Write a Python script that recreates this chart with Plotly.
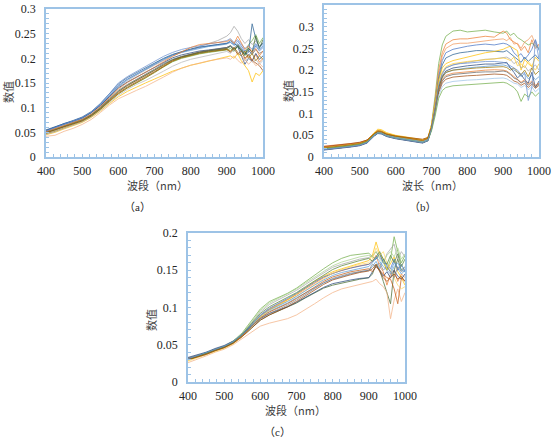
import plotly.graph_objects as go

W, H = 554, 446

# ---------------- data ----------------
wl_a = [400,425,450,475,500,525,550,575,600,625,650,675,700,725,750,775,800,825,850,875,900,910,920,930,940,950,960,970,980,990,1000]
wl_b = [400,425,450,475,500,520,540,550,560,575,600,625,650,675,690,700,710,720,730,740,760,780,800,825,850,875,900,910,920,930,940,950,960,970,980,990,1000]
wl_c = wl_a

series_a = [
    [0.053,0.060,0.068,0.073,0.080,0.090,0.106,0.125,0.145,0.158,0.168,0.178,0.188,0.198,0.207,0.213,0.218,0.222,0.225,0.228,0.230,0.232,0.228,0.235,0.225,0.215,0.220,0.212,0.225,0.215,0.222],
    [0.050,0.055,0.062,0.068,0.074,0.084,0.098,0.115,0.132,0.145,0.155,0.165,0.176,0.186,0.196,0.203,0.208,0.213,0.216,0.218,0.220,0.215,0.222,0.210,0.205,0.198,0.205,0.195,0.208,0.192,0.200],
    [0.048,0.054,0.062,0.068,0.075,0.086,0.102,0.122,0.142,0.155,0.166,0.176,0.186,0.196,0.205,0.212,0.218,0.224,0.230,0.236,0.245,0.252,0.265,0.255,0.240,0.230,0.238,0.228,0.235,0.225,0.230],
    [0.045,0.050,0.057,0.063,0.070,0.080,0.093,0.108,0.122,0.133,0.142,0.150,0.158,0.166,0.174,0.180,0.186,0.190,0.194,0.198,0.202,0.205,0.200,0.210,0.195,0.185,0.175,0.152,0.170,0.165,0.175],
    [0.052,0.059,0.066,0.071,0.078,0.089,0.105,0.124,0.143,0.157,0.167,0.178,0.189,0.199,0.206,0.212,0.216,0.220,0.224,0.226,0.229,0.233,0.226,0.230,0.220,0.212,0.205,0.215,0.228,0.218,0.225],
    [0.050,0.055,0.062,0.067,0.073,0.083,0.097,0.113,0.128,0.140,0.150,0.160,0.172,0.183,0.193,0.200,0.205,0.209,0.212,0.214,0.217,0.220,0.214,0.224,0.218,0.205,0.228,0.236,0.248,0.230,0.242],
    [0.054,0.060,0.066,0.072,0.079,0.090,0.104,0.122,0.140,0.152,0.162,0.172,0.182,0.192,0.201,0.207,0.211,0.215,0.217,0.219,0.222,0.225,0.218,0.224,0.205,0.188,0.200,0.195,0.210,0.198,0.205],
    [0.049,0.055,0.061,0.066,0.073,0.083,0.097,0.114,0.130,0.142,0.152,0.162,0.173,0.184,0.195,0.202,0.207,0.211,0.214,0.216,0.218,0.212,0.220,0.208,0.215,0.200,0.208,0.196,0.190,0.185,0.175],
    [0.051,0.057,0.064,0.069,0.076,0.086,0.100,0.118,0.135,0.147,0.157,0.167,0.178,0.189,0.198,0.204,0.209,0.213,0.216,0.219,0.222,0.226,0.220,0.228,0.218,0.210,0.216,0.208,0.218,0.210,0.214],
    [0.047,0.052,0.059,0.065,0.072,0.082,0.096,0.112,0.128,0.140,0.150,0.160,0.171,0.183,0.194,0.201,0.206,0.210,0.213,0.215,0.218,0.214,0.222,0.212,0.205,0.215,0.200,0.210,0.195,0.205,0.198],
    [0.055,0.061,0.068,0.074,0.081,0.092,0.108,0.128,0.148,0.161,0.171,0.181,0.191,0.200,0.208,0.214,0.219,0.223,0.226,0.228,0.230,0.236,0.230,0.225,0.215,0.208,0.212,0.270,0.240,0.222,0.232],
    [0.050,0.056,0.063,0.068,0.075,0.085,0.099,0.116,0.133,0.145,0.155,0.165,0.176,0.187,0.197,0.203,0.208,0.212,0.215,0.218,0.220,0.224,0.216,0.226,0.215,0.208,0.220,0.212,0.245,0.220,0.238],
    [0.053,0.060,0.067,0.073,0.080,0.091,0.108,0.128,0.150,0.163,0.173,0.184,0.194,0.204,0.212,0.218,0.222,0.226,0.229,0.232,0.236,0.240,0.232,0.238,0.228,0.220,0.226,0.218,0.230,0.222,0.228],
    [0.042,0.044,0.052,0.058,0.066,0.076,0.090,0.105,0.118,0.127,0.135,0.143,0.152,0.162,0.172,0.180,0.186,0.191,0.195,0.198,0.201,0.198,0.205,0.196,0.190,0.198,0.188,0.195,0.185,0.190,0.182],
    [0.046,0.051,0.058,0.064,0.071,0.081,0.094,0.110,0.125,0.137,0.147,0.155,0.164,0.174,0.184,0.192,0.198,0.202,0.206,0.210,0.214,0.210,0.218,0.212,0.205,0.195,0.200,0.192,0.198,0.188,0.196],
    [0.051,0.057,0.064,0.069,0.076,0.087,0.102,0.120,0.138,0.151,0.161,0.171,0.182,0.193,0.204,0.213,0.222,0.228,0.230,0.232,0.234,0.238,0.230,0.245,0.232,0.218,0.225,0.212,0.220,0.205,0.215],
]

series_b = [
    [0.018,0.020,0.023,0.025,0.028,0.034,0.052,0.058,0.057,0.051,0.046,0.043,0.040,0.036,0.042,0.075,0.140,0.215,0.258,0.278,0.290,0.292,0.288,0.290,0.292,0.288,0.285,0.290,0.280,0.285,0.275,0.270,0.265,0.258,0.262,0.255,0.250],
    [0.025,0.027,0.029,0.031,0.033,0.039,0.055,0.061,0.060,0.054,0.049,0.046,0.043,0.039,0.044,0.072,0.130,0.200,0.240,0.260,0.270,0.272,0.272,0.275,0.278,0.276,0.290,0.285,0.270,0.265,0.260,0.245,0.255,0.240,0.270,0.250,0.260],
    [0.020,0.022,0.025,0.027,0.030,0.036,0.053,0.059,0.058,0.052,0.047,0.044,0.041,0.037,0.042,0.070,0.125,0.192,0.232,0.250,0.260,0.262,0.262,0.265,0.268,0.270,0.272,0.268,0.275,0.260,0.262,0.250,0.265,0.270,0.280,0.260,0.255],
    [0.018,0.020,0.023,0.025,0.028,0.034,0.050,0.056,0.055,0.049,0.044,0.041,0.038,0.034,0.039,0.068,0.120,0.185,0.222,0.240,0.248,0.252,0.255,0.258,0.260,0.258,0.262,0.260,0.255,0.240,0.232,0.238,0.225,0.235,0.248,0.270,0.245],
    [0.017,0.019,0.022,0.024,0.027,0.033,0.049,0.055,0.054,0.048,0.043,0.040,0.037,0.033,0.038,0.066,0.115,0.178,0.212,0.228,0.236,0.240,0.242,0.245,0.245,0.243,0.242,0.245,0.238,0.230,0.225,0.218,0.230,0.220,0.228,0.235,0.225],
    [0.021,0.023,0.026,0.028,0.031,0.037,0.056,0.064,0.063,0.056,0.050,0.047,0.044,0.040,0.045,0.074,0.122,0.178,0.205,0.215,0.222,0.226,0.230,0.235,0.240,0.243,0.248,0.252,0.255,0.250,0.245,0.200,0.225,0.215,0.208,0.230,0.220],
    [0.020,0.022,0.025,0.027,0.030,0.036,0.052,0.058,0.057,0.051,0.046,0.043,0.040,0.036,0.041,0.068,0.112,0.165,0.192,0.205,0.212,0.216,0.218,0.222,0.225,0.226,0.228,0.230,0.225,0.215,0.220,0.205,0.210,0.198,0.205,0.212,0.200],
    [0.022,0.024,0.027,0.029,0.032,0.038,0.056,0.062,0.061,0.055,0.049,0.046,0.043,0.039,0.044,0.072,0.118,0.170,0.196,0.208,0.215,0.218,0.220,0.222,0.224,0.226,0.228,0.226,0.222,0.230,0.210,0.215,0.205,0.220,0.210,0.200,0.215],
    [0.019,0.021,0.024,0.026,0.029,0.035,0.051,0.057,0.056,0.050,0.045,0.042,0.039,0.035,0.040,0.066,0.108,0.158,0.182,0.194,0.200,0.203,0.205,0.207,0.209,0.210,0.212,0.210,0.205,0.198,0.195,0.185,0.192,0.180,0.188,0.178,0.185],
    [0.016,0.018,0.021,0.023,0.026,0.032,0.048,0.054,0.053,0.047,0.042,0.039,0.036,0.032,0.037,0.064,0.108,0.160,0.186,0.198,0.205,0.208,0.210,0.212,0.214,0.214,0.216,0.218,0.205,0.195,0.182,0.190,0.178,0.170,0.195,0.160,0.175],
    [0.023,0.025,0.028,0.030,0.033,0.039,0.054,0.060,0.059,0.053,0.048,0.045,0.042,0.038,0.043,0.068,0.108,0.155,0.178,0.188,0.193,0.195,0.196,0.198,0.200,0.201,0.200,0.198,0.192,0.185,0.180,0.172,0.178,0.168,0.175,0.165,0.170],
    [0.024,0.026,0.029,0.031,0.034,0.039,0.053,0.058,0.057,0.052,0.048,0.046,0.044,0.041,0.045,0.068,0.104,0.148,0.170,0.179,0.184,0.186,0.187,0.188,0.190,0.191,0.190,0.188,0.182,0.175,0.172,0.165,0.170,0.160,0.168,0.158,0.165],
    [0.017,0.019,0.022,0.024,0.027,0.033,0.049,0.055,0.054,0.048,0.043,0.040,0.037,0.033,0.038,0.064,0.104,0.152,0.175,0.185,0.190,0.192,0.193,0.195,0.196,0.196,0.198,0.196,0.190,0.182,0.178,0.170,0.175,0.165,0.172,0.162,0.168],
    [0.018,0.020,0.023,0.025,0.028,0.034,0.050,0.056,0.055,0.049,0.044,0.041,0.038,0.034,0.039,0.062,0.098,0.142,0.162,0.170,0.174,0.176,0.177,0.178,0.180,0.181,0.182,0.180,0.175,0.170,0.168,0.160,0.165,0.155,0.162,0.150,0.158],
    [0.019,0.021,0.024,0.026,0.029,0.035,0.050,0.056,0.055,0.049,0.044,0.041,0.038,0.034,0.038,0.060,0.094,0.135,0.153,0.160,0.164,0.165,0.166,0.168,0.170,0.170,0.172,0.170,0.165,0.160,0.150,0.128,0.145,0.138,0.150,0.140,0.148],
    [0.021,0.023,0.026,0.028,0.031,0.037,0.054,0.060,0.059,0.053,0.048,0.045,0.042,0.038,0.043,0.068,0.110,0.160,0.184,0.195,0.200,0.202,0.203,0.205,0.206,0.207,0.208,0.206,0.200,0.205,0.195,0.190,0.200,0.185,0.205,0.190,0.198],
    [0.017,0.019,0.022,0.024,0.027,0.033,0.049,0.055,0.054,0.048,0.043,0.040,0.037,0.033,0.038,0.066,0.112,0.165,0.192,0.205,0.212,0.215,0.216,0.218,0.220,0.220,0.218,0.215,0.210,0.205,0.200,0.190,0.195,0.130,0.160,0.270,0.225],
]

series_c = [
    [0.031,0.035,0.039,0.044,0.048,0.055,0.066,0.082,0.098,0.108,0.113,0.119,0.126,0.135,0.144,0.152,0.160,0.166,0.170,0.172,0.173,0.168,0.165,0.172,0.160,0.150,0.165,0.195,0.175,0.160,0.170],
    [0.030,0.034,0.038,0.043,0.047,0.053,0.063,0.076,0.089,0.098,0.104,0.110,0.117,0.125,0.133,0.140,0.146,0.150,0.153,0.156,0.158,0.162,0.170,0.155,0.148,0.130,0.145,0.150,0.135,0.145,0.140],
    [0.032,0.035,0.039,0.044,0.048,0.054,0.065,0.079,0.094,0.104,0.110,0.116,0.123,0.131,0.139,0.147,0.154,0.158,0.162,0.165,0.167,0.170,0.175,0.168,0.160,0.172,0.178,0.185,0.165,0.175,0.168],
    [0.029,0.033,0.037,0.042,0.046,0.052,0.062,0.075,0.088,0.097,0.103,0.110,0.118,0.127,0.135,0.142,0.148,0.152,0.156,0.160,0.163,0.170,0.188,0.172,0.165,0.150,0.160,0.168,0.148,0.140,0.130],
    [0.031,0.034,0.038,0.043,0.047,0.053,0.063,0.075,0.087,0.095,0.100,0.106,0.113,0.120,0.127,0.133,0.138,0.142,0.145,0.148,0.150,0.155,0.162,0.152,0.165,0.155,0.148,0.160,0.152,0.145,0.150],
    [0.030,0.033,0.037,0.042,0.046,0.052,0.061,0.072,0.083,0.090,0.095,0.100,0.106,0.113,0.120,0.126,0.130,0.133,0.136,0.138,0.140,0.145,0.158,0.150,0.135,0.120,0.105,0.150,0.165,0.150,0.155],
    [0.026,0.030,0.035,0.040,0.044,0.050,0.058,0.067,0.075,0.079,0.082,0.085,0.090,0.097,0.105,0.113,0.120,0.125,0.128,0.130,0.133,0.135,0.138,0.132,0.128,0.120,0.085,0.110,0.125,0.108,0.120],
    [0.032,0.035,0.039,0.044,0.048,0.054,0.064,0.077,0.090,0.099,0.105,0.112,0.119,0.127,0.134,0.141,0.146,0.150,0.153,0.156,0.158,0.162,0.165,0.172,0.160,0.158,0.152,0.165,0.150,0.158,0.148],
    [0.033,0.036,0.040,0.045,0.049,0.055,0.064,0.075,0.085,0.092,0.096,0.101,0.107,0.114,0.121,0.127,0.132,0.135,0.137,0.139,0.140,0.148,0.155,0.150,0.142,0.148,0.140,0.150,0.142,0.138,0.145],
    [0.030,0.034,0.038,0.043,0.047,0.054,0.065,0.080,0.096,0.106,0.112,0.118,0.125,0.133,0.141,0.149,0.156,0.161,0.165,0.168,0.170,0.168,0.175,0.165,0.160,0.170,0.175,0.168,0.180,0.165,0.172],
    [0.028,0.032,0.036,0.041,0.045,0.051,0.061,0.074,0.087,0.096,0.102,0.108,0.115,0.123,0.131,0.139,0.146,0.151,0.155,0.158,0.160,0.165,0.180,0.170,0.175,0.160,0.150,0.140,0.130,0.125,0.128],
    [0.031,0.034,0.038,0.043,0.047,0.053,0.062,0.074,0.086,0.094,0.099,0.105,0.112,0.120,0.128,0.135,0.141,0.145,0.148,0.150,0.152,0.148,0.155,0.150,0.145,0.140,0.138,0.125,0.105,0.140,0.135],
    [0.032,0.035,0.039,0.044,0.048,0.054,0.063,0.074,0.085,0.092,0.097,0.103,0.110,0.118,0.126,0.133,0.139,0.143,0.146,0.148,0.150,0.158,0.155,0.160,0.150,0.155,0.148,0.140,0.155,0.148,0.152],
    [0.030,0.034,0.038,0.043,0.047,0.053,0.064,0.078,0.092,0.101,0.107,0.113,0.120,0.128,0.136,0.144,0.151,0.156,0.160,0.163,0.166,0.162,0.168,0.175,0.165,0.158,0.170,0.160,0.172,0.155,0.165],
    [0.031,0.035,0.039,0.044,0.048,0.054,0.064,0.076,0.089,0.097,0.102,0.108,0.115,0.123,0.130,0.137,0.143,0.147,0.150,0.153,0.155,0.160,0.168,0.162,0.155,0.150,0.145,0.155,0.160,0.150,0.148],
    [0.030,0.033,0.037,0.042,0.046,0.052,0.061,0.072,0.083,0.090,0.095,0.101,0.108,0.116,0.124,0.131,0.137,0.141,0.144,0.147,0.149,0.152,0.158,0.148,0.140,0.135,0.140,0.145,0.138,0.142,0.135],
]

colors_a = ["#4472C4","#ED7D31","#A5A5A5","#FFC000","#5B9BD5","#70AD47","#264478","#9E480E",
            "#636363","#997300","#255E91","#43682B","#698ED0","#F4B183","#B7B7B7","#ED7D31"]
colors_b = ["#70AD47","#ED7D31","#F1975A","#4472C4","#255E91","#FFC000","#A5A5A5","#FFCD33",
            "#5B9BD5","#264478","#ED7D31","#9E480E","#636363","#9DC3E6","#70AD47","#997300","#698ED0"]
colors_c = ["#70AD47","#ED7D31","#A5A5A5","#FFC000","#5B9BD5","#43682B","#F4B183","#4472C4",
            "#264478","#A9D18E","#FFD966","#C55A11","#7F7F7F","#548235","#5B9BD5","#9E480E"]

titles_x = ["波段（nm）", "波长（nm）", "波段（nm）"]
title_y = "数值"
captions = ["（a）", "（b）", "（c）"]
y_ranges = [[0, 0.3], [0, 0.35], [0, 0.2]]

# ---------------- layout helpers (pixel boxes) ----------------
def px_x(p): return p / W
def px_y(p): return 1 - p / H

boxes = [  # left, right, top, bottom in pixels
    (46, 263, 9, 157),
    (324, 539, 5, 157),
    (188, 405, 233, 382),
]

fig = go.Figure()
all_data = [(wl_a, series_a, colors_a), (wl_b, series_b, colors_b), (wl_c, series_c, colors_c)]
for i, (wl, ser, cols) in enumerate(all_data):
    xa = "x" if i == 0 else f"x{i+1}"
    ya = "y" if i == 0 else f"y{i+1}"
    for j, s in enumerate(ser):
        fig.add_trace(go.Scatter(x=wl, y=s, mode="lines", xaxis=xa, yaxis=ya,
                                 line=dict(color=cols[j % len(cols)], width=0.9),
                                 opacity=0.8, showlegend=False, hoverinfo="skip"))

border = "#9DC3E6"
tickfont = dict(family="Liberation Serif, Times New Roman, serif", size=12, color="#262626")
layout = dict(width=W, height=H, margin=dict(l=0, r=0, t=0, b=0, autoexpand=False),
              paper_bgcolor="white", plot_bgcolor="white", showlegend=False)

annotations = []
for i, (l, r, t, b) in enumerate(boxes):
    sfx = "" if i == 0 else str(i + 1)
    layout[f"xaxis{sfx}"] = dict(
        domain=[px_x(l), px_x(r)], range=[400, 1000], anchor=f"y{sfx}", automargin=False,
        tickmode="linear", tick0=400, dtick=100, ticks="inside", ticklen=3,
        tickcolor=border, showline=True, linecolor=border, linewidth=1.5, mirror=True,
        showgrid=False, zeroline=False, tickfont=tickfont, ticklabelstandoff=2,
        minor=dict(dtick=20, ticks="inside", ticklen=3, tickcolor=border, showgrid=False))
    yr = y_ranges[i]
    layout[f"yaxis{sfx}"] = dict(
        domain=[px_y(b), px_y(t)], range=yr, anchor=f"x{sfx}", automargin=False,
        tickmode="linear", tick0=0, dtick=0.05, ticks="inside", ticklen=3,
        tickcolor=border, showline=True, linecolor=border, linewidth=1.5, mirror=True,
        showgrid=False, zeroline=False, tickfont=tickfont, ticklabelstandoff=6,
        minor=dict(dtick=0.01, ticks="inside", ticklen=3, tickcolor=border, showgrid=False))

cjk = "Noto Sans CJK SC"
label_pos = [
    dict(xt=(157, 185), yt=(8, 92), cap=(137, 207)),
    dict(xt=(432, 185), yt=(288, 91), cap=(423, 207)),
    dict(xt=(295, 410), yt=(151, 320), cap=(277, 432)),
]
for i, p in enumerate(label_pos):
    annotations.append(dict(x=px_x(p["xt"][0]), y=px_y(p["xt"][1]), xref="paper", yref="paper",
                            xanchor="center", yanchor="middle",
                            text=titles_x[i], showarrow=False,
                            font=dict(family=cjk, size=11, color="#404040")))
    annotations.append(dict(x=px_x(p["yt"][0]), y=px_y(p["yt"][1]), xref="paper", yref="paper",
                            xanchor="center", yanchor="middle",
                            text=title_y, showarrow=False, textangle=-90,
                            font=dict(family=cjk, size=11, color="#404040")))
    annotations.append(dict(x=px_x(p["cap"][0]), y=px_y(p["cap"][1]), xref="paper", yref="paper",
                            xanchor="center", yanchor="middle",
                            text=captions[i], showarrow=False,
                            font=dict(family="Liberation Serif, " + cjk, size=11, color="#262626")))
layout["annotations"] = annotations
fig.update_layout(**layout)
fig.write_html("out.html", config={"displayModeBar": False},
               post_script="document.body.style.margin='0';document.body.style.padding='0';document.body.style.overflow='hidden';")
